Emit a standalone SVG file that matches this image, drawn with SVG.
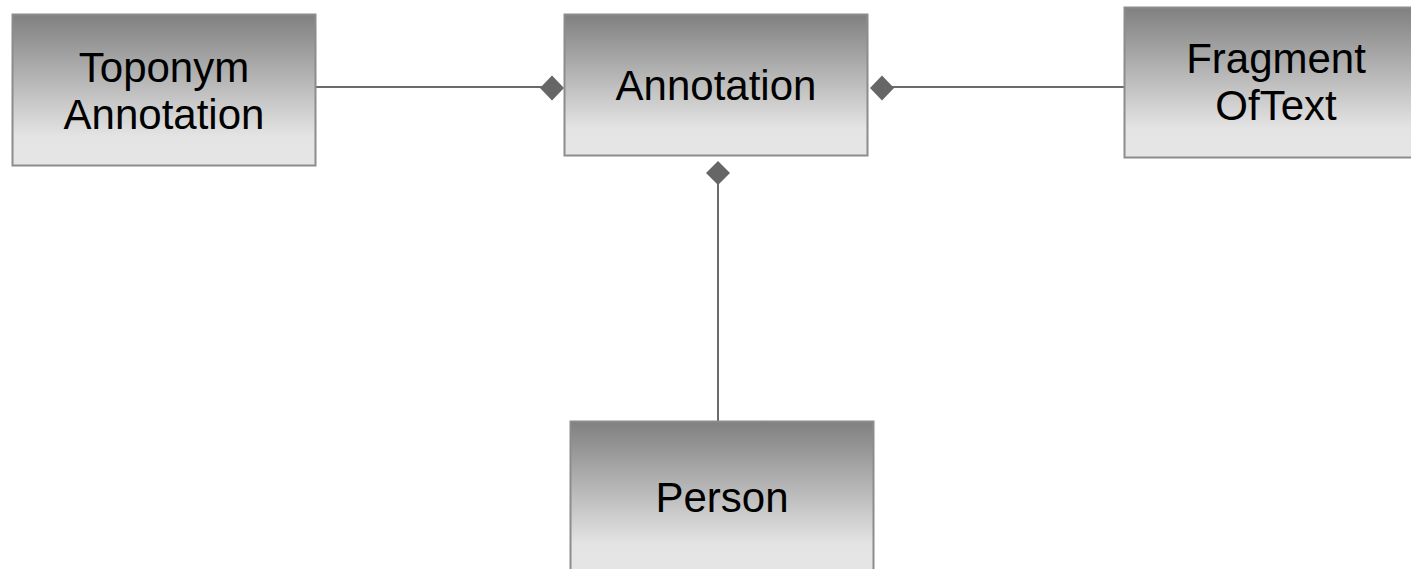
<svg xmlns="http://www.w3.org/2000/svg" width="1411" height="569" viewBox="0 0 1411 569">
<style>
.box{fill:url(#g);stroke:#8c8c8c;stroke-width:2}
.t{font-family:"Liberation Sans",Arial,sans-serif;font-size:42px;fill:#000;text-anchor:middle}
.c{stroke:#6a6a6a;stroke-width:2;fill:none}
.d{fill:#666}
</style>
<defs>
<linearGradient id="g" x1="0" y1="0" x2="0" y2="1">
<stop offset="0" stop-color="#808080"/>
<stop offset="0.8" stop-color="#e3e3e3"/>
<stop offset="1" stop-color="#e6e6e6"/>
</linearGradient>
</defs>
<rect width="1411" height="569" fill="#fff"/>
<g id="connectors">
<line class="c" x1="316" y1="87" x2="542" y2="87"/>
<polygon class="d" points="540,88 552,75.5 564,88 552,100.5"/>
<line class="c" x1="892" y1="87" x2="1124" y2="87"/>
<polygon class="d" points="870,88 882,75.5 894,88 882,100.5"/>
<line class="c" x1="718" y1="183" x2="718" y2="421"/>
<polygon class="d" points="706,173 718,161 730,173 718,185"/>
</g>
<g id="toponym">
<rect class="box" x="12.5" y="14.5" width="303" height="151"/>
<text class="t" x="164" y="82">Toponym</text>
<text class="t" x="164" y="129">Annotation</text>
</g>
<g id="annotation">
<rect class="box" x="564.5" y="14.5" width="303" height="141"/>
<text class="t" x="716" y="100">Annotation</text>
</g>
<g id="fragment">
<rect class="box" x="1124.5" y="7.5" width="303" height="150"/>
<text class="t" x="1276" y="73">Fragment</text>
<text class="t" x="1276" y="120">OfText</text>
</g>
<g id="person">
<rect class="box" x="570.5" y="421.5" width="303" height="152"/>
<text class="t" x="722" y="512">Person</text>
</g>
</svg>
